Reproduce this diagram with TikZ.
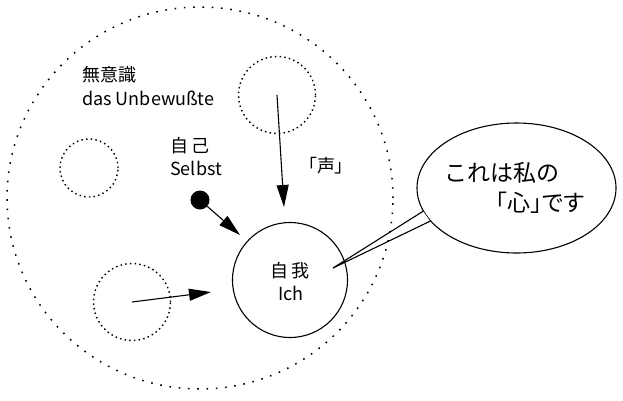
\documentclass[tikz,border=0pt]{standalone}
\usepackage{fontspec}
\setmainfont{Noto Sans CJK JP}
\newfontfamily\paltfont[RawFeature=+palt]{Noto Sans CJK JP}
\usetikzlibrary{arrows.meta,shapes.geometric,calc}

\tikzset{
  bigdots/.style={draw, line width=1.5pt, dash pattern=on 1.6pt off 7.7pt},
  smalldots/.style={draw, line width=1.4pt, dash pattern=on 1.5pt off 3.2pt},
  pointer/.style={line width=1.1pt, -{Triangle[length=22pt,width=12pt]}},
  label/.style={font=\fontsize{18}{20}\selectfont, inner sep=0pt}
}

\begin{document}
\begin{tikzpicture}[x=1pt,y=-1pt]
\useasboundingbox (0,0) rectangle (623,400);
% unconscious and the small circles in it
\node[bigdots, ellipse, minimum width=386pt, minimum height=382pt] (unconscious) at (200,198) {};
\node[smalldots, circle, minimum size=77pt] (voice) at (277,95) {};
\node[smalldots, circle, minimum size=58pt] (left) at (89,168) {};
\node[smalldots, circle, minimum size=77pt] (lower) at (132,302) {};
% ego
\node[draw, line width=1.1pt, circle, minimum size=115pt] (ich) at (290,280) {};
\node[label] (ichjp) at (290,271) {自\,我};
\node[label] (ichde) at (291,293) {Ich};
% self
\node[fill, circle, minimum size=19pt, inner sep=0pt] (self) at (200,200) {};
\node[label, anchor=west] (selfjp) at (170,146) {自\,己};
\node[label, anchor=west] (selfde) at (170,168) {Selbst};
% labels
\node[label, anchor=west] (ubwjp) at (82,75) {無意識};
\node[label, anchor=west] (ubwde) at (82,98) {das Unbewußte};
\node[label] (voicelabel) at (326,166) {\paltfont 「声」};
% arrows
\coordinate (voiceend) at (284,207);
\coordinate (selfend) at (240,235);
\coordinate (lowerend) at (211,292);
\draw[pointer] (voice.center) -- (voiceend);
\draw[pointer] (self) -- (selfend);
\draw[pointer] (lower.center) -- (lowerend);
% speech bubble
\node[draw, line width=1.1pt, ellipse, minimum width=199pt, minimum height=130pt, fill=white] (bubble) at (516.5,188) {};
\coordinate (tip) at (333,268);
\coordinate (taila) at (bubble.194.5);
\coordinate (tailb) at (bubble.201);
\fill[white] (taila) -- ($(taila)!0.15!(tip)$) -- ($(tailb)!0.15!(tip)$) -- (tailb) -- cycle;
\draw[line width=1.1pt] (taila) -- (tip) -- (tailb);
\node[font=\fontsize{23}{25}\selectfont, inner sep=0pt] (bubbletop) at (502,173) {これは私の};
\node[font=\fontsize{23}{25}\selectfont\paltfont, inner sep=0pt] (bubblebottom) at (540,203) {「心」です};
\end{tikzpicture}
\end{document}
